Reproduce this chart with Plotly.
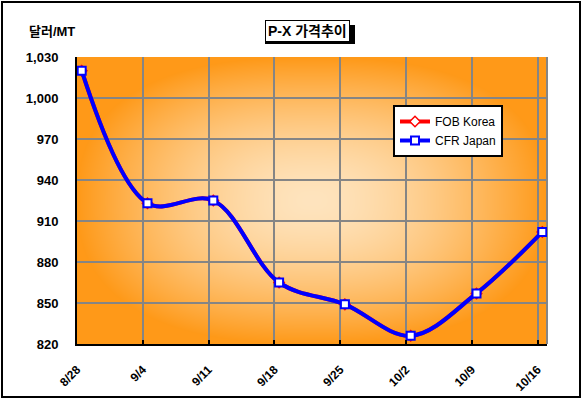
import base64
import struct
import zlib
from datetime import datetime, timedelta

import numpy as np
import plotly.graph_objects as go

# ---------------- data ----------------
dates = ["2009-08-28", "2009-09-04", "2009-09-11", "2009-09-18",
         "2009-09-25", "2009-10-02", "2009-10-09", "2009-10-16"]
tick_labels = ["8/28", "9/4", "9/11", "9/18", "9/25", "10/2", "10/9", "10/16"]
fob_korea = [1020, 923, 925, 865, 849, 826, 857, 902]
cfr_japan = [1020, 923, 925, 865, 849, 826, 857, 902]
y_ticks = [820, 850, 880, 910, 940, 970, 1000, 1030]

# Excel date axis: each point sits in the middle of its day slot
x_pts = [(datetime.strptime(d, "%Y-%m-%d") + timedelta(hours=12)).strftime("%Y-%m-%d %H:%M")
         for d in dates]

# ---------------- layout geometry (pixels) ----------------
FIG_W, FIG_H = 582, 399
L, R, T, B = 77, 547, 57, 344
PW, PH = R - L, B - T


def px(x):
    return (x - L) / PW


def py(y):
    return (B - y) / PH


# ---------------- gradient background image ----------------
def gradient_png(w, h):
    xs = (np.arange(w) + 0.5 - w / 2) / (w / 2)
    ys = (np.arange(h) + 0.5 - h / 2) / (h / 2)
    u, v = np.meshgrid(xs, ys)
    p = 2.5
    d = (np.abs(u) ** p + np.abs(v) ** p) ** (1 / p)
    f = np.clip(d, 0, 1) ** 1.6
    c0 = np.array([254, 228, 190], float)
    c1 = np.array([255, 153, 24], float)
    img = c0[None, None, :] + (c1 - c0)[None, None, :] * f[..., None]
    img = np.clip(img, 0, 255).astype(np.uint8)
    raw = b"".join(b"\x00" + img[i].tobytes() for i in range(h))

    def chunk(t, data):
        return (struct.pack(">I", len(data)) + t + data +
                struct.pack(">I", zlib.crc32(t + data) & 0xFFFFFFFF))

    png = (b"\x89PNG\r\n\x1a\n" +
           chunk(b"IHDR", struct.pack(">IIBBBBB", w, h, 8, 2, 0, 0, 0)) +
           chunk(b"IDAT", zlib.compress(raw, 9)) +
           chunk(b"IEND", b""))
    return "data:image/png;base64," + base64.b64encode(png).decode()


FONT = "Liberation Sans, Arial, Noto Sans CJK KR, sans-serif"

fig = go.Figure()

fig.add_trace(go.Scatter(
    x=x_pts, y=fob_korea, name="FOB Korea", mode="lines+markers",
    line=dict(color="#FF0000", width=4, shape="spline", smoothing=1.0),
    marker=dict(symbol="diamond", size=8, color="white",
                line=dict(color="#FF0000", width=1.5)),
))
fig.add_trace(go.Scatter(
    x=x_pts, y=cfr_japan, name="CFR Japan", mode="lines+markers",
    line=dict(color="#0000FF", width=4, shape="spline", smoothing=1.0),
    marker=dict(symbol="square", size=8, color="white",
                line=dict(color="#0000FF", width=2)),
))

fig.update_layout(
    width=FIG_W, height=FIG_H,
    margin=dict(l=L, r=FIG_W - R, t=T, b=FIG_H - B, pad=0, autoexpand=False),
    paper_bgcolor="white",
    plot_bgcolor="rgba(0,0,0,0)",
    font=dict(family=FONT, size=12, color="black"),
    showlegend=True,
    legend=dict(
        x=px(393), y=py(105), xanchor="left", yanchor="top",
        bgcolor="white", bordercolor="black", borderwidth=2,
        font=dict(family=FONT, size=12, color="black"),
        itemwidth=30, tracegroupgap=0,
    ),
    images=[dict(
        source=gradient_png(PW, PH), xref="paper", yref="paper",
        x=0, y=1, sizex=1, sizey=1, xanchor="left", yanchor="top",
        sizing="stretch", layer="below",
    )],
)

fig.update_xaxes(
    type="date",
    range=["2009-08-28", "2009-10-17"],
    tickmode="array", tickvals=dates, ticktext=tick_labels,
    tickangle=-45,
    tickfont=dict(family=FONT, size=12, color="black", weight="bold"),
    ticks="inside", ticklen=4, tickwidth=1.5, tickcolor="black",
    ticklabelstandoff=12, automargin=False,
    showgrid=True, gridcolor="#858585", gridwidth=2,
    showline=True, linecolor="black", linewidth=2,
    zeroline=False, fixedrange=True,
)
fig.update_yaxes(
    range=[820, 1030],
    tickmode="array", tickvals=y_ticks,
    ticktext=[f"{v:,}" for v in y_ticks],
    tickfont=dict(family=FONT, size=13, color="black", weight="bold"),
    ticks="", ticklabelstandoff=14, automargin=False,
    showgrid=True, gridcolor="#858585", gridwidth=2,
    showline=True, linecolor="black", linewidth=2,
    zeroline=False, fixedrange=True,
)

shapes = [
    # right border of plot area (grey)
    dict(type="line", xref="paper", yref="paper", x0=1, x1=1, y0=0, y1=1,
         line=dict(color="#858585", width=2), layer="below"),
    # outer chart border
    dict(type="rect", xref="paper", yref="paper",
         x0=px(2), x1=px(580), y0=py(397), y1=py(2),
         line=dict(color="black", width=2), fillcolor="rgba(0,0,0,0)", layer="above"),
    # title shadow
    dict(type="rect", xref="paper", yref="paper",
         x0=px(265), x1=px(355), y0=py(44), y1=py(25),
         line=dict(width=0), fillcolor="black", layer="above"),
]
fig.update_layout(shapes=shapes)

fig.add_annotation(
    text="<b>P-X 가격추이</b>", xref="paper", yref="paper",
    x=px(307), y=py(31.5), xanchor="center", yanchor="middle",
    showarrow=False, font=dict(family=FONT, size=14, color="black"),
    bgcolor="white", bordercolor="black", borderwidth=1, borderpad=2,
)
fig.add_annotation(
    text="<b>달러/MT</b>", xref="paper", yref="paper",
    x=px(27), y=py(31), xanchor="left", yanchor="middle",
    showarrow=False, font=dict(family=FONT, size=13, color="black"),
)

fig.write_html("out.html", config={"displayModeBar": False},
               post_script="document.body.style.margin='0';")
